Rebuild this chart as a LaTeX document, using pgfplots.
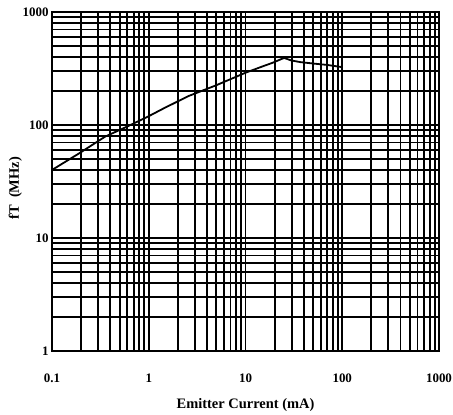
\documentclass[border=0pt]{standalone}
\usepackage{pgfplots}
\pgfplotsset{compat=1.18}
\usepackage{fontspec}
\setmainfont{Liberation Serif}
\usetikzlibrary{calc}
\begin{document}
\begin{tikzpicture}
\begin{axis}[
  xmode=log, ymode=log,
  scale only axis, width=387bp, height=339bp,
  xmin=0.1, xmax=1000, ymin=1, ymax=1000,
  xtick={0.1,1,10,100,1000}, xticklabels={0.1,1,10,100,1000},
  ytick={1,10,100,1000}, yticklabels={1,10,100,1000},
  minor xtick={0.2,0.3,0.4,0.5,0.6,0.7,0.8,0.9,2,3,4,5,6,7,8,9,20,30,40,50,60,70,80,90,200,300,400,500,600,700,800,900},
  minor ytick={2,3,4,5,6,7,8,9,20,30,40,50,60,70,80,90,200,300,400,500,600,700,800,900},
  grid=both,
  major grid style={black, line width=1.9bp},
  minor grid style={black, line width=1.9bp},
  axis line style={black, line width=1.9bp},
  major tick length=0pt, minor tick length=0pt,
  /pgf/number format/assume math mode=true,
  tick label style={font=\bfseries\fontsize{13}{15}\selectfont},
  xticklabel style={yshift=-19bp},
  xlabel={Emitter Current (mA)}, ylabel={fT\ \ (MHz)},
  xlabel style={font=\bfseries\fontsize{14.5}{16}\selectfont, at={(axis description cs:0.5,0)}, anchor=center, yshift=-54bp, inner sep=0pt},
  ylabel style={font=\bfseries\fontsize{14.5}{16}\selectfont, at={(axis description cs:-0.095,0.48)}, anchor=center},
]
\addplot[black, line width=1.8bp] coordinates {
  (0.1,40) (0.19,56) (0.355,79) (0.6,97) (0.95,117) (1.42,140) (2.56,180)
  (5,225) (10,290) (15,330) (19,355) (25,392) (30,372) (37,360) (50,350) (70,340) (100,325)
};
\end{axis}
\pgfresetboundingbox
\path[use as bounding box] ($(current axis.south west)+(-52bp,-63bp)$) rectangle ($(current axis.north east)+(14bp,12bp)$);
\end{tikzpicture}
\end{document}
